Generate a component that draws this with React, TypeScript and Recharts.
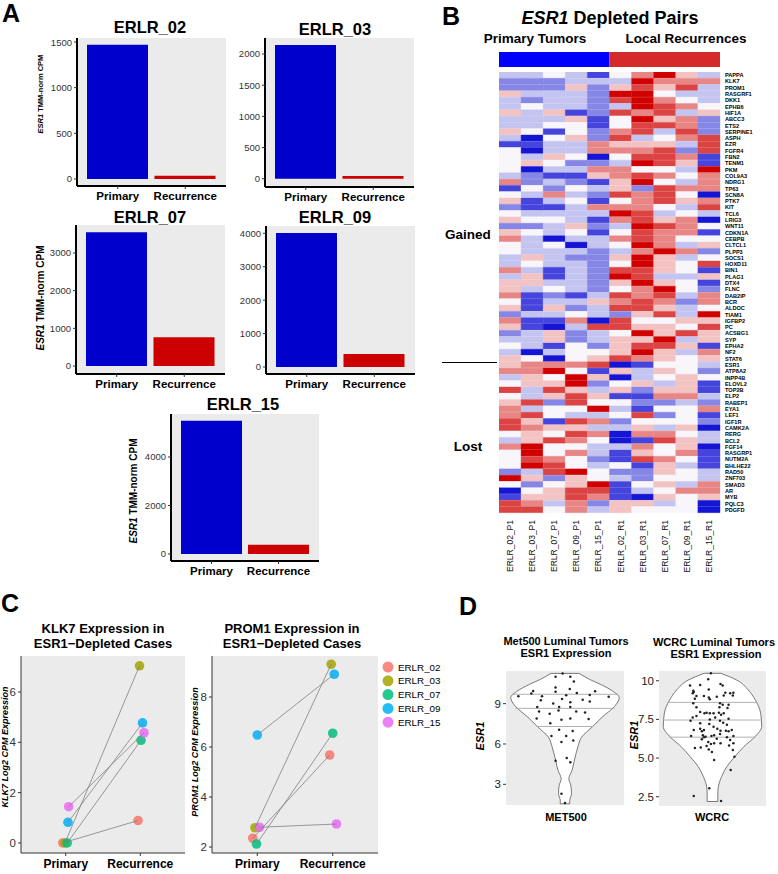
import React from 'react';
import { BarChart, Bar, XAxis, YAxis, CartesianGrid, Cell, ScatterChart, Scatter, AreaChart, Area } from 'recharts';

const FONT = '"Liberation Sans", Arial, Helvetica, sans-serif';
const PANEL_BG = '#ebebeb';

// ---- panel A: ESR1 TMM-norm CPM per pair
const GROUPS = ['Primary', 'Recurrence'];
const GROUP_COLORS = ['#0000cd', '#cc0000'];
const CPM_02 = [1470, 36];
const CPM_03 = [2145, 43];
const CPM_07 = [3550, 762];
const CPM_09 = [4010, 389];
const CPM_15 = [5497, 380];

// ---- panel B: heatmap
const SAMPLES = ['ERLR_02_P1', 'ERLR_03_P1', 'ERLR_07_P1', 'ERLR_09_P1', 'ERLR_15_P1',
  'ERLR_02_R1', 'ERLR_03_R1', 'ERLR_07_R1', 'ERLR_09_R1', 'ERLR_15_R1'];
const ANNOT_GROUPS = ['Primary Tumors', 'Local Recurrences'];
const ANNOT_COUNTS = [5, 5];
const ANNOT_COLORS = ['#0000ff', '#d42a2a'];
const GENES = ['PAPPA', 'KLK7', 'PROM1', 'RASGRF1', 'DKK1', 'EPHB6', 'HIF1A', 'ABCC3', 'ETS2', 'SERPINE1',
  'ASPH', 'EZR', 'FGFR4', 'FBN2', 'TENM1', 'PKM', 'COL9A3', 'NDRG1', 'TP63', 'SCN8A',
  'PTK7', 'KIT', 'TCL6', 'LRIG3', 'WNT11', 'CDKN1A', 'CEBPB', 'CLTCL1', 'PLPP3', 'SOCS1',
  'HOXD11', 'BIN1', 'PLAG1', 'DTX4', 'FLNC', 'DAB2IP', 'BCR', 'ALDOC', 'TIAM1', 'IGFBP2',
  'PC', 'ACSBG1', 'SYP', 'EPHA2', 'NF2', 'STAT6', 'ESR1', 'ATP8A2', 'INPP4B', 'ELOVL2',
  'TOP2B', 'ELP2', 'RABEP1', 'EYA1', 'LEF1', 'IGF1R', 'CAMK2A', 'RERG', 'BCL2', 'FGF14',
  'RASGRP1', 'NUTM2A', 'BHLHE22', 'RAD50', 'ZNF703', 'SMAD3', 'AR', 'MYB', 'PQLC3', 'PDGFD'];
// level 0 = deep blue ... 4 = white ... 8 = deep red, one digit per sample
const HEAT = ['3343146853', '2223338666', '2225257573', '5333288433', '3233278643', '3433238764', '5351276735', '3335148562', '3344147762', '5414267372',
  '3045273467', '1133655537', '4033666727', '4354047761', '4542238751', '4033664438', '3211567646', '6232158436', '1424352766', '4363276740',
  '5134146756', '2113666437', '4333387343', '5443167560', '2235238764', '5434147661', '6303367644', '4340348635', '4333236862', '3532258534',
  '3433248547', '6313277541', '3513287335', '5533258541', '5343246842', '6121376736', '4133567626', '5152377534', '2334325738', '6116074455',
  '5103775547', '2352348575', '3352355835', '4314257751', '3034458536', '5404576545', '5666701443', '6684153542', '3548503454', '4558245351',
  '7375352551', '4357511663', '5727442232', '6344831446', '6743347241', '7517624442', '7655335350', '4547606643', '3576401753', '6844336450',
  '4846315461', '4764217641', '4874341531', '2378422543', '8525432443', '4245814536', '0457713466', '1557610545', '7636255340', '7746354440'];
const HEAT_COLORS = ['#1515d5', '#4545dd', '#8686e6', '#c4c4f1', '#f8f6fa', '#f3c3c3', '#e88686', '#dc4444', '#d00000'];

// ---- panel C: paired expression
const CASES = ['ERLR_02', 'ERLR_03', 'ERLR_07', 'ERLR_09', 'ERLR_15'];
const CASE_COLORS = ['#F8766D', '#A3A500', '#00BF7D', '#00B0F6', '#E76BF3'];
const KLK7_PRIMARY = [0, 0, 0, 0.82, 1.44];
const KLK7_RECURRENCE = [0.89, 7.04, 4.08, 4.77, 4.38];
const KLK7_POS_P = [0.96, 0.99, 1.02, 1.03, 1.04];
const KLK7_POS_R = [1.97, 1.99, 2.01, 2.03, 2.05];
const PROM1_PRIMARY = [2.35, 2.77, 2.12, 6.48, 2.79];
const PROM1_RECURRENCE = [5.68, 9.31, 6.55, 8.91, 2.92];
const PROM1_POS_P = [0.94, 0.97, 0.99, 1.0, 1.03];
const PROM1_POS_R = [1.96, 1.98, 2.0, 2.02, 2.05];

// ---- panel D: violins
const MET500_SHAPE_Y = [1.55, 1.8, 2.3, 2.9, 3.4, 4.05, 4.8, 5.8, 6.5, 7.3, 8.0, 8.8, 9.45, 9.9, 10.4, 10.8, 11.25];
const MET500_SHAPE_W = [0.08, 0.08, 0.11, 0.1, 0.065, 0.12, 0.16, 0.22, 0.28, 0.47, 0.63, 0.84, 0.92, 0.82, 0.62, 0.42, 0.24];
const MET500_Q = [7.3, 8.65, 9.7];
const MET500_QW = [0.48, 0.84, 0.9];
const MET500_JIT = [-0.04, -0.16, 0.09, 0.15, -0.16, 0.08, -0.54, -0.57, -0.16, 0.2,
  0.51, -0.79, -0.39, 0.02, 0.42, 0.74, -0.41, -0.05, 0.3, -0.2,
  0.09, 0.42, -0.47, -0.1, 0.09, -0.44, -0.26, -0.11, 0.19, 0.34,
  -0.48, -0.25, -0.06, 0.09, 0.4, -0.1, -0.23, 0.02, 0.13, -0.06,
  0.14, -0.16, 0.03, 0.09, -0.06, 0.0];
const MET500_ESR1 = [11.25, 11.0, 11.0, 10.65, 10.2, 10.1, 9.95, 9.75, 9.88, 9.8,
  9.92, 9.55, 9.55, 9.62, 9.65, 9.52, 9.25, 9.35, 9.3, 9.02,
  9.1, 9.17, 8.75, 8.75, 8.75, 8.42, 8.25, 8.5, 8.42, 8.35,
  7.9, 7.55, 7.8, 7.9, 7.85, 7.05, 6.6, 6.6, 6.97, 6.15,
  6.25, 4.75, 4.95, 4.65, 2.3, 1.6];
const WCRC_SHAPE_Y = [2.19, 2.73, 3.16, 3.8, 4.46, 5.1, 5.75, 6.4, 7.04, 7.9, 8.76, 9.4, 10.05, 10.48];
const WCRC_SHAPE_W = [0.1, 0.1, 0.11, 0.17, 0.27, 0.42, 0.59, 0.8, 0.92, 0.9, 0.8, 0.67, 0.45, 0.155];
const WCRC_Q = [6.35, 7.46, 8.6];
const WCRC_QW = [0.81, 0.925, 0.84];
const WCRC_JIT = [-0.03, -0.42, -0.23, -0.08, 0.15, 0.19, -0.36, -0.37, -0.35, -0.07,
  0.24, 0.33, 0.39, 0.38, -0.3, -0.33, -0.16, -0.07, -0.05, 0.08,
  0.21, -0.36, 0.14, 0.19, 0.3, -0.3, 0.13, 0.28, -0.23, -0.15,
  -0.11, -0.05, 0.02, 0.12, 0.16, 0.21, -0.37, -0.41, -0.3, -0.05,
  0.05, 0.14, 0.2, 0.3, -0.23, -0.06, 0.27, -0.35, -0.23, -0.2,
  -0.16, 0.02, 0.09, 0.15, 0.25, 0.3, 0.36, -0.4, -0.18, -0.16,
  -0.13, -0.02, 0.03, 0.14, 0.27, 0.39, -0.2, 0.08, 0.33, 0.39,
  -0.08, -0.03, 0.03, 0.15, 0.31, -0.33, -0.22, -0.11, -0.07, -0.01,
  0.38, 0.03, 0.41, 0.34, -0.06, -0.35, 0.16];
const WCRC_ESR1 = [10.48, 9.7, 9.72, 10.1, 9.79, 9.7, 9.35, 9.19, 9.27, 9.44,
  9.22, 9.19, 9.22, 9.05, 9.01, 8.84, 9.01, 8.92, 8.8, 8.97,
  9.05, 8.54, 8.54, 8.45, 8.45, 8.28, 8.28, 8.24, 7.98, 7.89,
  7.93, 7.89, 7.89, 7.93, 7.8, 7.89, 7.63, 7.41, 7.72, 7.5,
  7.63, 7.41, 7.29, 7.54, 7.25, 7.2, 7.16, 6.81, 6.9, 6.73,
  6.81, 7.03, 6.9, 6.77, 6.77, 6.73, 6.81, 6.42, 6.47, 6.34,
  6.38, 6.42, 6.47, 6.55, 6.34, 6.42, 6.21, 6.25, 6.17, 5.95,
  6.04, 5.91, 5.95, 5.95, 5.82, 5.65, 5.69, 5.78, 5.56, 5.39,
  5.52, 4.87, 5.09, 4.23, 3.04, 2.55, 2.22];

const NoDot = () => <g />;

function CpmBars({ values, ticks, domain, x, y, w, h }: any) {
  const data = GROUPS.map((g, i) => ({ group: g, cpm: values[i] }));
  const axisW = 42;
  const xH = 30;
  return (
    <div style={{ position: 'absolute', left: x - axisW, top: y }}>
      <BarChart width={w + axisW} height={h + xH} data={data} margin={{ top: 0, right: 0, bottom: 0, left: 0 }}>
        <CartesianGrid fill={PANEL_BG} stroke="none" horizontal={false} vertical={false} />
        <XAxis dataKey="group" interval={0} padding={{ left: 7, right: 7 }} height={xH} tickSize={3} tickMargin={3}
          axisLine={{ stroke: '#000', strokeWidth: 2 }} tickLine={{ stroke: '#333' }}
          tick={{ fontSize: 11.5, fontWeight: 700, fill: '#000', fontFamily: FONT }} />
        <YAxis type="number" domain={domain} ticks={ticks} width={axisW} tickSize={3} tickMargin={2} allowDataOverflow
          axisLine={{ stroke: '#000', strokeWidth: 2 }} tickLine={{ stroke: '#333' }}
          tick={{ fontSize: 9.5, fill: '#333', fontFamily: FONT }} />
        <Bar dataKey="cpm" barSize={61} isAnimationActive={false}>
          {data.map((d, i) => <Cell key={d.group} fill={GROUP_COLORS[i]} />)}
        </Bar>
      </BarChart>
    </div>
  );
}

function SampleTick(props: any) {
  const { x, y, payload } = props;
  const label = SAMPLES[Math.floor(payload.value)] ?? '';
  return (
    <text x={x} y={y} transform={`rotate(-90 ${x} ${y})`} textAnchor="end" dominantBaseline="central"
      fontSize={8.5} fontFamily={FONT} fill="#111">{label}</text>
  );
}

function GeneTick(props: any) {
  const { x, y, payload } = props;
  return (
    <text x={x} y={y} dominantBaseline="central" textAnchor="start" fontSize={5.6} fontWeight={700}
      fontFamily={FONT} fill="#000">{payload.value}</text>
  );
}

function Heatmap() {
  const rows = GENES.map((g) => {
    const r: any = { gene: g };
    SAMPLES.forEach((_, j) => { r[`s${j}`] = 1; });
    return r;
  });
  const annot: any = { name: 'group' };
  ANNOT_GROUPS.forEach((g, i) => { annot[g] = ANNOT_COUNTS[i]; });
  return (
    <>
      <div style={{ position: 'absolute', left: 499, top: 52 }}>
        <BarChart layout="vertical" width={221} height={15} data={[annot]} margin={{ top: 0, right: 0, bottom: 0, left: 0 }} barCategoryGap={0}>
          <XAxis type="number" domain={[0, 10]} hide />
          <YAxis type="category" dataKey="name" hide />
          {ANNOT_GROUPS.map((g, i) => (
            <Bar key={g} dataKey={g} stackId="a" fill={ANNOT_COLORS[i]} isAnimationActive={false} />
          ))}
        </BarChart>
      </div>
      <div style={{ position: 'absolute', left: 499, top: 72 }}>
        <BarChart layout="vertical" width={276} height={503} data={rows} margin={{ top: 0, right: 0, bottom: 0, left: 0 }} barCategoryGap={0}>
          <XAxis type="number" domain={[0, 10]} ticks={SAMPLES.map((_, j) => j + 0.5)} interval={0} height={62}
            axisLine={false} tickLine={false} tickSize={5} tickMargin={2} tick={<SampleTick />} />
          <YAxis type="category" dataKey="gene" orientation="right" width={55} interval={0} axisLine={false} tickLine={false}
            tickSize={3} tickMargin={2} tick={<GeneTick />} />
          {SAMPLES.map((s, j) => (
            <Bar key={s} dataKey={`s${j}`} stackId="heat" isAnimationActive={false}>
              {GENES.map((g, i) => {
                const c = HEAT_COLORS[Number(HEAT[i][j])];
                return <Cell key={g} fill={c} stroke={c} strokeWidth={0.4} />;
              })}
            </Bar>
          ))}
        </BarChart>
      </div>
    </>
  );
}

function PairedDots({ x, y, w, h, domain, ticks, primary, recurrence, posP, posR }: any) {
  const axisW = 20;
  const xH = 26;
  const pairs = CASES.map((c, i) => [{ x: posP[i], y: primary[i] }, { x: posR[i], y: recurrence[i] }]);
  return (
    <div style={{ position: 'absolute', left: x - axisW, top: y }}>
      <ScatterChart width={w + axisW} height={h + xH} margin={{ top: 0, right: 0, bottom: 0, left: 0 }}>
        <CartesianGrid fill={PANEL_BG} stroke="none" horizontal={false} vertical={false} />
        <XAxis type="number" dataKey="x" domain={[0.4, 2.6]} ticks={[1, 2]} tickFormatter={(v: number) => GROUPS[Math.round(v) - 1]}
          height={xH} tickSize={3} tickMargin={3} axisLine={{ stroke: '#333' }} tickLine={{ stroke: '#333' }}
          tick={{ fontSize: 12, fontWeight: 700, fill: '#000', fontFamily: FONT }} allowDataOverflow />
        <YAxis type="number" dataKey="y" domain={domain} ticks={ticks} width={axisW} tickSize={3} tickMargin={2}
          axisLine={{ stroke: '#333' }} tickLine={{ stroke: '#333' }} tick={{ fontSize: 11.5, fill: '#333', fontFamily: FONT }} allowDataOverflow />
        {CASES.map((c, i) => (
          <Scatter key={c} data={pairs[i]} isAnimationActive={false}
            shape={(p: any) => <circle cx={p.cx} cy={p.cy} r={4.8} fill={CASE_COLORS[i]} fillOpacity={0.85} />} />
        ))}
        {CASES.map((c, i) => (
          <Scatter key={`l${c}`} data={pairs[i]} isAnimationActive={false} shape={NoDot}
            line={{ stroke: '#808080', strokeWidth: 0.8 }} />
        ))}
      </ScatterChart>
    </div>
  );
}

function Violin({ x, y, w, h, domain, ticks, tickFmt, shapeY, shapeW, q, qw, jit, vals }: any) {
  const axisW = 32;
  const shape = shapeY.map((v: number, i: number) => ({ y: v, band: [-shapeW[i], shapeW[i]] }));
  const n = shapeY.length;
  const caps = [0, n - 1].map((k) => [{ x: -shapeW[k], y: shapeY[k] }, { x: shapeW[k], y: shapeY[k] }]);
  const qLines = q.map((v: number, i: number) => [{ x: -qw[i], y: v }, { x: qw[i], y: v }]);
  const pts = jit.map((j: number, i: number) => ({ x: j, y: vals[i] }));
  return (
    <>
      <div style={{ position: 'absolute', left: x - axisW, top: y }}>
        <AreaChart layout="vertical" width={w + axisW} height={h} data={shape} margin={{ top: 0, right: 0, bottom: 0, left: 0 }}>
          <CartesianGrid fill={PANEL_BG} stroke="none" horizontal={false} vertical={false} />
          <XAxis type="number" domain={[-1, 1]} hide />
          <YAxis type="number" dataKey="y" domain={domain} ticks={ticks} tickFormatter={tickFmt} reversed width={axisW}
            axisLine={false} tickSize={3} tickMargin={2} tickLine={{ stroke: '#333' }}
            tick={{ fontSize: 11.5, fill: '#222', fontFamily: FONT }} allowDataOverflow />
          <Area dataKey="band" type="monotone" stroke="#5a5a5a" strokeWidth={0.8} fill="#ffffff" fillOpacity={1}
            dot={false} activeDot={false} isAnimationActive={false} />
        </AreaChart>
      </div>
      <div style={{ position: 'absolute', left: x, top: y }}>
        <ScatterChart width={w} height={h} margin={{ top: 0, right: 0, bottom: 0, left: 0 }}>
          <XAxis type="number" dataKey="x" domain={[-1, 1]} hide />
          <YAxis type="number" dataKey="y" domain={domain} hide />
          {caps.map((c: any, i: number) => (
            <Scatter key={`c${i}`} data={c} shape={NoDot} line={{ stroke: '#5a5a5a', strokeWidth: 0.8 }} isAnimationActive={false} />
          ))}
          {qLines.map((c: any, i: number) => (
            <Scatter key={`q${i}`} data={c} shape={NoDot} line={{ stroke: '#a8a8a8', strokeWidth: 0.9 }} isAnimationActive={false} />
          ))}
          <Scatter data={pts} isAnimationActive={false}
            shape={(p: any) => <circle cx={p.cx} cy={p.cy} r={1.25} fill="#222" />} />
        </ScatterChart>
      </div>
    </>
  );
}

function T({ x, y, s, a = 'middle', w = 700, it = false, rot = false, c = '#000', children }: any) {
  return (
    <text x={x} y={y} fontSize={s} fontWeight={w} textAnchor={a} fill={c} fontStyle={it ? 'italic' : 'normal'}
      dominantBaseline={rot ? 'central' : undefined} transform={rot ? `rotate(-90 ${x} ${y})` : undefined}>
      {children}
    </text>
  );
}

function Overlay() {
  return (
    <svg width={778} height={874} style={{ position: 'absolute', left: 0, top: 0, pointerEvents: 'none' }} fontFamily={FONT}>
      <T x={2} y={22} s={25} a="start">A</T>
      <T x={442} y={25} s={25} a="start">B</T>
      <T x={1} y={612} s={25} a="start">C</T>
      <T x={459} y={615} s={25} a="start">D</T>

      <T x={150} y={32.7} s={16.5}>ERLR_02</T>
      <T x={335} y={35} s={16.5}>ERLR_03</T>
      <T x={150} y={222.7} s={16.5}>ERLR_07</T>
      <T x={335} y={222.7} s={16.5}>ERLR_09</T>
      <T x={243} y={410} s={16.5}>ERLR_15</T>
      <T x={40} y={94} s={7.5} rot><tspan fontStyle="italic">ESR1</tspan> TMM-norm CPM</T>
      <T x={40} y={298} s={10} rot><tspan fontStyle="italic">ESR1</tspan> TMM-norm CPM</T>
      <T x={133} y={491} s={10} rot><tspan fontStyle="italic">ESR1</tspan> TMM-norm CPM</T>

      <T x={610} y={24} s={18}><tspan fontStyle="italic">ESR1</tspan> Depleted Pairs</T>
      <T x={535} y={43} s={13.5}>{ANNOT_GROUPS[0]}</T>
      <T x={686} y={43} s={13.5}>{ANNOT_GROUPS[1]}</T>
      <T x={468} y={239} s={13.5}>Gained</T>
      <T x={468} y={451} s={13.5}>Lost</T>
      <line x1={442} y1={362.5} x2={497} y2={362.5} stroke="#000" strokeWidth={1} />

      <T x={103} y={633} s={13}>KLK7 Expression in</T>
      <T x={103} y={648} s={13}>ESR1−Depleted Cases</T>
      <T x={292} y={633} s={13}>PROM1 Expression in</T>
      <T x={292} y={648} s={13}>ESR1−Depleted Cases</T>
      <T x={4.5} y={747} s={9} it rot>KLK7 Log2 CPM Expression</T>
      <T x={195} y={752} s={9} it rot>PROM1 Log2 CPM Expression</T>
      {CASES.map((c, i) => (
        <g key={c}>
          <circle cx={388} cy={667 + i * 13.8} r={5.5} fill={CASE_COLORS[i]} fillOpacity={0.85} />
          <T x={398} y={670.5 + i * 13.8} s={9.8} a="start" w={400}>{c}</T>
        </g>
      ))}

      <T x={566} y={645} s={11}>Met500 Luminal Tumors</T>
      <T x={566} y={657} s={11}>ESR1 Expression</T>
      <T x={714} y={646} s={11}>WCRC Luminal Tumors</T>
      <T x={716} y={658} s={11}>ESR1 Expression</T>
      <T x={566} y={821} s={11}>MET500</T>
      <T x={712} y={821} s={11}>WCRC</T>
      <T x={480} y={736} s={11} it rot>ESR1</T>
      <T x={634} y={735} s={11} it rot>ESR1</T>
    </svg>
  );
}

export default function App() {
  return (
    <div style={{ position: 'absolute', left: 0, top: 0, width: 778, height: 874, background: '#fff', fontFamily: FONT, overflow: 'hidden' }}>
      <CpmBars values={CPM_02} ticks={[0, 500, 1000, 1500]} domain={[-77, 1544]} x={77} y={38} w={149} h={148} />
      <CpmBars values={CPM_03} ticks={[0, 500, 1000, 1500, 2000]} domain={[-133, 2257]} x={265} y={38} w={149} h={149} />
      <CpmBars values={CPM_07} ticks={[0, 1000, 2000, 3000]} domain={[-212, 3743]} x={76} y={225} w={149} h={149} />
      <CpmBars values={CPM_09} ticks={[0, 1000, 2000, 3000, 4000]} domain={[-209, 4218]} x={266} y={226} w={149} h={148} />
      <CpmBars values={CPM_15} ticks={[0, 2000, 4000]} domain={[-289, 5773]} x={171} y={414} w={148} h={147} />

      <Heatmap />

      <PairedDots x={21} y={656} w={164} h={197} domain={[-0.4, 7.43]} ticks={[0, 2, 4, 6]}
        primary={KLK7_PRIMARY} recurrence={KLK7_RECURRENCE} posP={KLK7_POS_P} posR={KLK7_POS_R} />
      <PairedDots x={212} y={656} w={166} h={197} domain={[1.76, 9.64]} ticks={[2, 4, 6, 8]}
        primary={PROM1_PRIMARY} recurrence={PROM1_RECURRENCE} posP={PROM1_POS_P} posR={PROM1_POS_R} />

      <Violin x={506} y={671} w={118} h={134} domain={[1.46, 11.43]} ticks={[3, 6, 9]} tickFmt={(v: number) => String(v)}
        shapeY={MET500_SHAPE_Y} shapeW={MET500_SHAPE_W} q={MET500_Q} qw={MET500_QW} jit={MET500_JIT} vals={MET500_ESR1} />
      <Violin x={659} y={671} w={107} h={135} domain={[1.9, 10.63]} ticks={[2.5, 5, 7.5, 10]}
        tickFmt={(v: number) => (v === 10 ? '10' : v.toFixed(1))}
        shapeY={WCRC_SHAPE_Y} shapeW={WCRC_SHAPE_W} q={WCRC_Q} qw={WCRC_QW} jit={WCRC_JIT} vals={WCRC_ESR1} />

      <Overlay />
    </div>
  );
}
